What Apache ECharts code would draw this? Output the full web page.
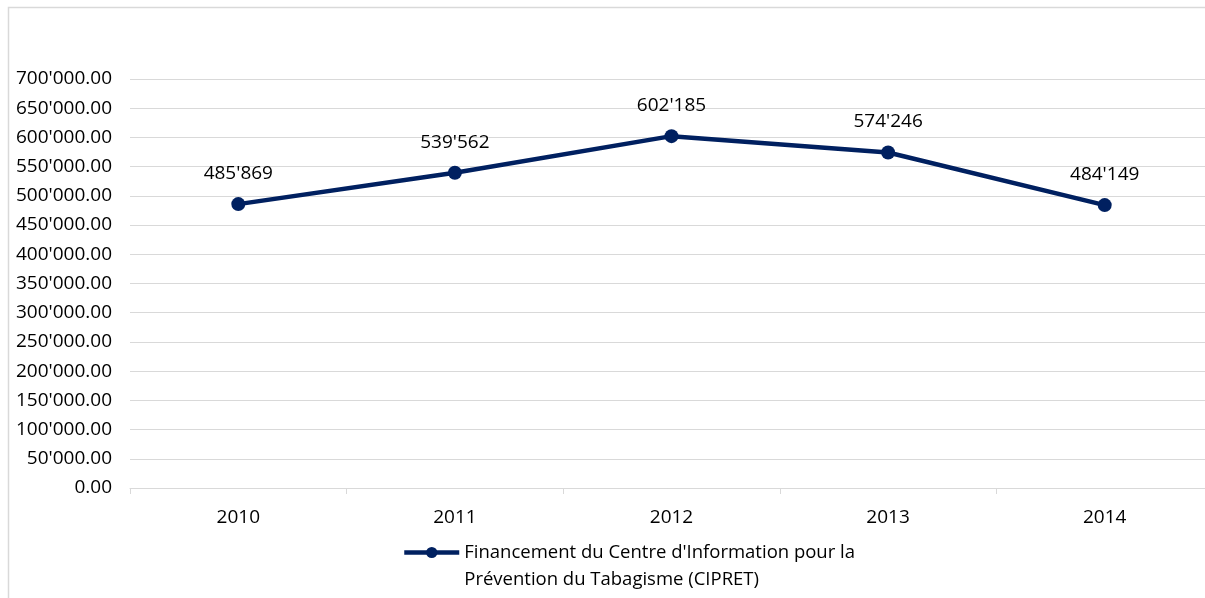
<!DOCTYPE html>
<html><head><meta charset="utf-8">
<script src="https://cdn.jsdelivr.net/npm/echarts@6/dist/echarts.min.js"></script>
<style>html,body{margin:0;padding:0;background:#fff;overflow:hidden}#c{width:1205px;height:598px}</style>
</head><body><div id="c"></div>
<script>
const categories = ['2010','2011','2012','2013','2014'];
const seriesName = "Financement du Centre d'Information pour la\nPrévention du Tabagisme (CIPRET)";
const values = [485869, 539562, 602185, 574246, 484149];
const yMin = 0, yMax = 700000, yInterval = 50000;

function swiss(n, dec) {
  const s = n.toFixed(dec);
  const parts = s.split('.');
  const int = parts[0].replace(/\B(?=(\d{3})+(?!\d))/g, "'");
  return parts.length > 1 ? int + '.' + parts[1] : int;
}
const FONT = '"Open Sans", sans-serif';
const chart = echarts.init(document.getElementById('c'));
chart.setOption({
  animation: false,
  graphic: [{type:'polyline', shape:{points:[[8.5,700],[8.5,7.5],[1400,7.5]]}, style:{fill:'none', stroke:'#d9d9d9', lineWidth:1.5}, silent:true, z:-1}],
  grid: {left:130, top:79, bottom:110, width:1083, containLabel:false, outerBoundsMode:'none'},
  legend: {
    data: [seriesName], left: 402, top: 512, padding: 0, itemWidth: 55, itemHeight: 14, itemGap: 0,
    formatter: n => ' \n' + n,
    lineStyle: {width: 4.5},
    textStyle: {fontFamily: FONT, fontSize: 18.5, color:'#000', lineHeight: 27}
  },
  xAxis: {
    type:'category', data: categories, boundaryGap:true,
    axisLine:{lineStyle:{color:'#d9d9d9', width:1}},
    axisTick:{show:true, length:6, lineStyle:{color:'#d9d9d9'}},
    axisLabel:{fontFamily:FONT, fontSize:19, color:'#000', margin:20}
  },
  yAxis: {
    type:'value', min:yMin, max:yMax, interval:yInterval,
    axisLine:{show:false}, axisTick:{show:false},
    splitLine:{lineStyle:{color:'#d9d9d9', width:1}},
    axisLabel:{fontFamily:FONT, fontSize:19, color:'#000', margin:18, formatter: v => swiss(v, 2)}
  },
  series: [{
    name: seriesName, type:'line', data: values,
    lineStyle:{color:'#002060', width:4.5},
    itemStyle:{color:'#002060'},
    symbol:'circle', symbolSize:14,
    label:{show:true, position:'top', distance:14, fontFamily:FONT, fontSize:19, color:'#000', formatter: p => swiss(p.value, 0)}
  }]
});
</script></body></html>
